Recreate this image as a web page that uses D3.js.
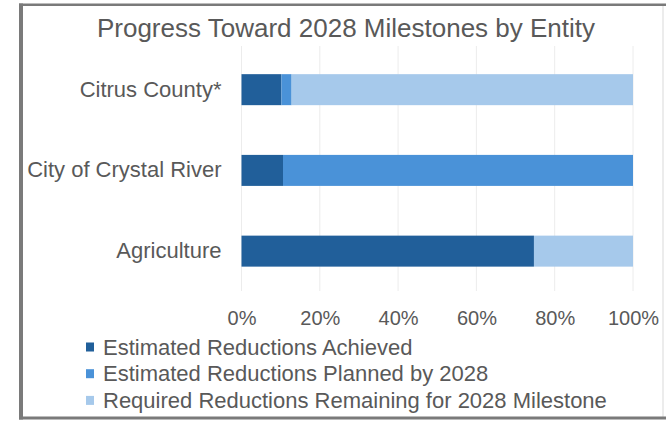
<!DOCTYPE html>
<html>
<head>
<meta charset="utf-8">
<script src="https://cdn.jsdelivr.net/npm/d3@7"></script>
<style>
    html, body { margin: 0; padding: 0; background: #ffffff; }
    svg text { font-family: "Liberation Sans", Arial, sans-serif; fill: #595959; }
</style>
</head>
<body>
<div id="chart"></div>
<script>

/* chart data (percent of the 2028 milestone) */
const categories = ["Citrus County*", "City of Crystal River", "Agriculture"];
const seriesNames = [
    "Estimated Reductions Achieved",
    "Estimated Reductions Planned by 2028",
    "Required Reductions Remaining for 2028 Milestone"
];
const achieved = [10.2, 10.6, 74.7];
const planned = [2.6, 89.4, 0];
const remaining = [87.2, 0, 25.3];
const xTicks = [0, 20, 40, 60, 80, 100];
const title = "Progress Toward 2028 Milestones by Entity";

const seriesColors = ["#215f9a", "#4a92d8", "#a6c9eb"];

/* layout */
const W = 666, H = 421;
const plotLeft = 241.5, plotRight = 633;
const plotTop = 49.3, plotBottom = 291.5;

const svg = d3.select("#chart")
    .append("svg")
    .attr("xmlns", "http://www.w3.org/2000/svg")
    .attr("width", W)
    .attr("height", H);

/* frame round the chart */
svg.append("rect")
    .attr("x", 0).attr("y", 0).attr("width", W).attr("height", H)
    .attr("fill", "#ffffff");
svg.append("line")
    .attr("x1", 663).attr("x2", 663).attr("y1", 5).attr("y2", 418)
    .attr("stroke", "#d9d9d9").attr("stroke-width", 1);
svg.append("rect")
    .attr("x", 19).attr("y", 3.5).attr("width", 4).attr("height", 416)
    .attr("fill", "#7a7a7a");
svg.append("rect")
    .attr("x", 19).attr("y", 3.5).attr("width", 647).attr("height", 2.5)
    .attr("fill", "#7a7a7a");
svg.append("rect")
    .attr("x", 19).attr("y", 416.5).attr("width", 647).attr("height", 3)
    .attr("fill", "#7a7a7a");

/* title */
svg.append("text")
    .attr("x", 346)
    .attr("y", 28)
    .attr("dy", "0.35em")
    .attr("text-anchor", "middle")
    .style("font-size", "26px")
    .text(title);

/* scales */
const xScale = d3.scaleLinear()
    .domain([0, 100])
    .range([plotLeft, plotRight]);

const yScale = d3.scaleBand()
    .domain(categories)
    .range([plotTop, plotBottom])
    .paddingInner(0.616)
    .paddingOuter(0.308);

/* gridlines */
svg.append("g")
    .attr("class", "grid")
    .selectAll("line")
    .data(xTicks)
    .join("line")
    .attr("x1", d => xScale(d))
    .attr("x2", d => xScale(d))
    .attr("y1", 46)
    .attr("y2", 291)
    .attr("stroke", "#ececec")
    .attr("stroke-width", 1);

/* stacked bars */
const rows = categories.map((c, i) => ({
    cat: c,
    [seriesNames[0]]: achieved[i],
    [seriesNames[1]]: planned[i],
    [seriesNames[2]]: remaining[i]
}));
const stacked = d3.stack().keys(seriesNames)(rows);

svg.append("g")
    .selectAll("g")
    .data(stacked)
    .join("g")
    .attr("fill", (d, i) => seriesColors[i])
    .selectAll("rect")
    .data(d => d)
    .join("rect")
    .attr("x", d => xScale(d[0]))
    .attr("y", d => yScale(d.data.cat))
    .attr("width", d => xScale(d[1]) - xScale(d[0]))
    .attr("height", yScale.bandwidth());

/* category axis (labels only) */
const yAxis = svg.append("g")
    .attr("transform", `translate(${plotLeft - 20}, 0)`)
    .call(d3.axisLeft(yScale).tickSize(0).tickPadding(0));
yAxis.select(".domain").remove();
yAxis.selectAll("text")
    .style("font-size", "22px")
    .attr("fill", null);

/* percent axis (labels only) */
const xAxis = svg.append("g")
    .attr("transform", "translate(0, 318)")
    .call(d3.axisBottom(xScale).tickValues(xTicks).tickSize(0).tickPadding(0)
        .tickFormat(d => d + "%"));
xAxis.select(".domain").remove();
xAxis.selectAll("text")
    .attr("dy", "0.35em")
    .attr("y", 0)
    .style("font-size", "20px")
    .attr("fill", null);

/* legend */
const legend = svg.append("g")
    .selectAll("g")
    .data(seriesNames)
    .join("g")
    .attr("transform", (d, i) => `translate(86, ${347 + i * 26.7})`);

legend.append("rect")
    .attr("x", 0).attr("y", -4.5)
    .attr("width", 8).attr("height", 9)
    .attr("fill", (d, i) => seriesColors[i]);

legend.append("text")
    .attr("x", 17)
    .attr("dy", "0.35em")
    .style("font-size", "22px")
    .text(d => d);

</script>
</body>
</html>
